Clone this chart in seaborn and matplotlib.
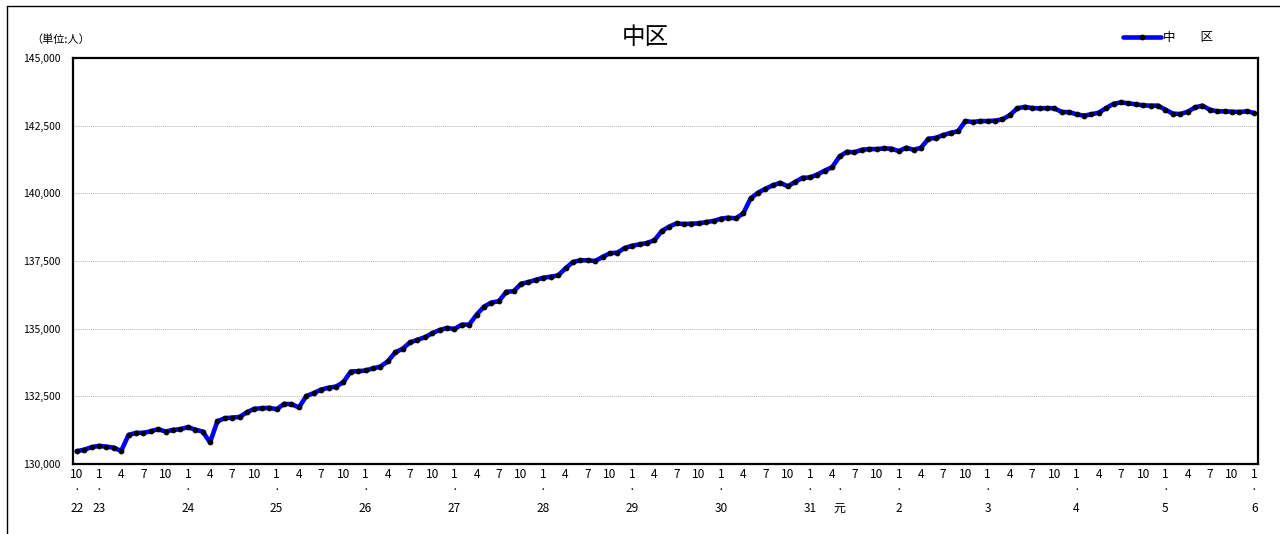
import matplotlib
matplotlib.use("Agg")
import matplotlib.pyplot as plt
from matplotlib.lines import Line2D
from matplotlib.transforms import blended_transform_factory
import pandas as pd
import seaborn as sns

# Monthly population of 中区, Oct H22 (2010) .. Jan R6 (2024), unit: persons
start_month = 10
population = [
    130470, 130530, 130620,                                                          # 2010 Oct-Dec
    130670, 130640, 130605, 130480, 131075, 131150, 131150, 131210, 131285, 131200, 131260, 131285,  # 2011
    131360, 131270, 131200, 130800, 131580, 131690, 131715, 131740, 131915, 132040, 132060, 132075,  # 2012
    132025, 132220, 132210, 132090, 132510, 132620, 132750, 132820, 132860, 133020, 133415, 133430,  # 2013
    133455, 133530, 133600, 133790, 134120, 134260, 134490, 134590, 134680, 134830, 134950, 135025,  # 2014
    134990, 135150, 135150, 135520, 135815, 135965, 136015, 136360, 136385, 136660, 136720, 136805,  # 2015
    136880, 136920, 136965, 137230, 137463, 137525, 137525, 137500, 137650, 137785, 137810, 137980,  # 2016
    138065, 138115, 138165, 138265, 138610, 138770, 138890, 138865, 138880, 138890, 138940, 138980,  # 2017
    139065, 139100, 139075, 139260, 139815, 140025, 140170, 140295, 140390, 140260, 140420, 140575,  # 2018
    140585, 140695, 140840, 140965, 141365, 141535, 141515, 141610, 141635, 141635, 141660, 141650,  # 2019
    141560, 141685, 141610, 141685, 142015, 142050, 142150, 142235, 142295, 142670, 142635, 142670,  # 2020
    142670, 142685, 142735, 142890, 143140, 143195, 143150, 143140, 143150, 143140, 143005, 143000,  # 2021
    142920, 142870, 142920, 142980, 143150, 143310, 143360, 143325, 143290, 143250, 143240, 143240,  # 2022
    143090, 142945, 142930, 143015, 143175, 143240, 143090, 143030, 143030, 143015, 143005, 143030,  # 2023
    142970,                                                                          # 2024 Jan
]

# year (和暦) labels shown under the month axis, keyed by position in the series
year_labels = {0: "22", 3: "23", 15: "24", 27: "25", 39: "26", 51: "27",
               63: "28", 75: "29", 87: "30", 99: "31", 103: "元",
               111: "2", 123: "3", 135: "4", 147: "5", 159: "6"}
y_ticks = [130000, 132500, 135000, 137500, 140000, 142500, 145000]
series_name = "中　　区"
title = "中区"
unit_note = "（単位:人）"

n = len(population)
months = [(start_month - 1 + i) % 12 + 1 for i in range(n)]
df = pd.DataFrame({"pos": range(n), "month": months, "value": population})

sns.set_style("white")
plt.rcParams["font.family"] = ["Noto Sans CJK JP", "DejaVu Sans"]
plt.rcParams["text.color"] = "black"
plt.rcParams["xtick.color"] = "black"
plt.rcParams["ytick.color"] = "black"

fig = plt.figure(figsize=(12.8, 5.34), dpi=100)
ax = fig.add_axes([73 / 1280, 1 - 464 / 534, (1258 - 73) / 1280, (464 - 58) / 534])

sns.lineplot(data=df, x="pos", y="value", ax=ax, color="#0000FF", linewidth=3.3,
             marker="o", markersize=3.4, markerfacecolor="black",
             markeredgecolor="black", label=series_name, zorder=3)

ax.set_xlim(-0.5, n - 0.5)
ax.set_ylim(y_ticks[0], y_ticks[-1])
ax.set_yticks(y_ticks)
ax.set_yticklabels([f"{v:,}" for v in y_ticks], fontsize=7.5)
ax.grid(axis="y", color="#b4b4b4", linestyle=(0, (1, 1)), linewidth=0.7)
ax.grid(axis="x", visible=False)
ax.set_axisbelow(True)

tick_pos = list(range(0, n, 3))
ax.set_xticks(tick_pos)
ax.set_xticklabels([str(months[p]) for p in tick_pos], fontsize=8.6)
ax.tick_params(axis="both", length=0)
ax.tick_params(axis="x", pad=3)
ax.tick_params(axis="y", pad=9)
ax.set_xlabel("")
ax.set_ylabel("")
for s in ax.spines.values():
    s.set_color("black")
    s.set_linewidth(1.6)

trans = blended_transform_factory(ax.transData, fig.transFigure)
for p, lab in year_labels.items():
    ax.text(p, 1 - 491 / 534, "·", transform=trans, ha="center", va="center", fontsize=8.6)
    ax.text(p, 1 - 508 / 534, lab, transform=trans, ha="center", va="center", fontsize=8.6)

fig.text(645 / 1280, 1 - 38 / 534, title, ha="center", va="center", fontsize=17)
fig.text(61 / 1280, 1 - 40 / 534, unit_note, ha="center", va="center", fontsize=8)

ax.legend(loc="center left", bbox_to_anchor=(1118 / 1280, 1 - 38 / 534),
          bbox_transform=fig.transFigure, frameon=False, fontsize=9,
          handlelength=3.0, handletextpad=0.2, borderaxespad=0)

# outer chart border (top and left edges visible)
fig.add_artist(Line2D([7 / 1280, 1.0], [1 - 6 / 534, 1 - 6 / 534], color="black", linewidth=1))
fig.add_artist(Line2D([7 / 1280, 7 / 1280], [0.0, 1 - 6 / 534], color="black", linewidth=1))

fig.savefig("out.png", dpi=100)
